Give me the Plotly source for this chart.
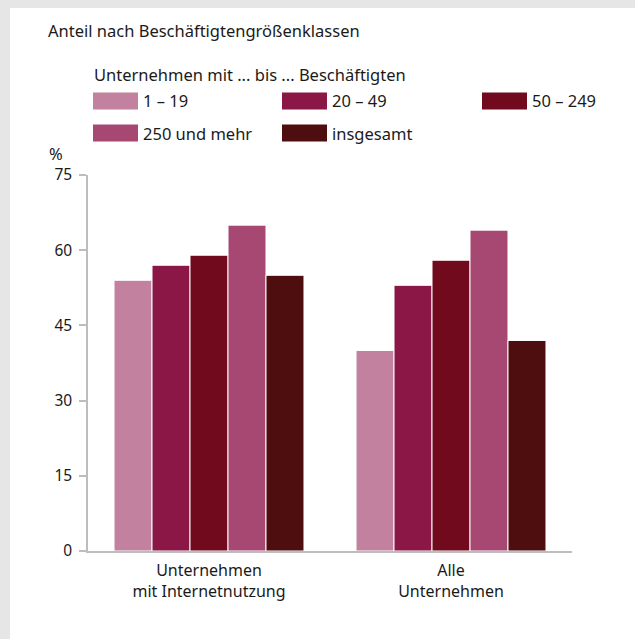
import plotly.graph_objects as go

# data
categories = ["Unternehmen<br>mit Internetnutzung", "Alle<br>Unternehmen"]
series_names = ["1 – 19", "20 – 49", "50 – 249", "250 und mehr", "insgesamt"]
values_1_19 = [54, 40]
values_20_49 = [57, 53]
values_50_249 = [59, 58]
values_250 = [65, 64]
values_total = [55, 42]
y_ticks = [0, 15, 30, 45, 60, 75]

colors = ["#C2819E", "#8A1746", "#710A1C", "#A64872", "#4E0D0F"]
series_values = [values_1_19, values_20_49, values_50_249, values_250, values_total]

W, H = 635, 639
L, R, T, B = 88, 63, 175, 88
FONT = "Noto Sans"


def px_x(x):
    return (x - L) / (W - L - R)


def px_y(y):
    return (H - B - y) / (H - T - B)


fig = go.Figure()
for name, vals, col in zip(series_names, series_values, colors):
    fig.add_trace(go.Bar(x=categories, y=vals, name=name, marker_color=col,
                         marker_line=dict(color="white", width=1),
                         showlegend=False, hoverinfo="y+name"))

shapes = []
# gray frame, white card
shapes.append(dict(type="rect", xref="paper", yref="paper", layer="below",
                   x0=px_x(10), x1=px_x(W + 5), y0=px_y(8), y1=px_y(H + 5),
                   fillcolor="white", line_width=0))

annotations = [
    dict(text="Anteil nach Beschäftigtengrößenklassen", x=px_x(46), y=px_y(31)),
    dict(text="Unternehmen mit ... bis ... Beschäftigten", x=px_x(92), y=px_y(74)),
    dict(text="%", x=px_x(47), y=px_y(154)),
]

# hand-made legend with wide swatches
leg_x = [93, 282, 482, 93, 282]
leg_y = [101, 101, 101, 133, 133]
for name, col, lx, ly in zip(series_names, colors, leg_x, leg_y):
    shapes.append(dict(type="rect", xref="paper", yref="paper",
                       x0=px_x(lx), x1=px_x(lx + 45), y0=px_y(ly + 8.5), y1=px_y(ly - 8.5),
                       fillcolor=col, line_width=0))
    annotations.append(dict(text=name, x=px_x(lx + 48), y=px_y(ly)))

for a in annotations:
    a.update(xref="paper", yref="paper", xanchor="left", yanchor="middle",
             showarrow=False, font=dict(size=16.5, color="#1a1a1a", family=FONT))

fig.update_layout(
    width=W, height=H,
    margin=dict(l=L, r=R, t=T, b=B),
    paper_bgcolor="#E6E6E6", plot_bgcolor="white",
    barmode="group", bargap=0.215, bargroupgap=0.0,
    font=dict(family=FONT, size=16, color="#1a1a1a"),
    shapes=shapes, annotations=annotations,
)
fig.update_xaxes(showline=True, linecolor="#BDBDBD", linewidth=2, ticks="",
                 showgrid=False, tickfont=dict(size=16), ticklabelstandoff=4)
fig.update_yaxes(range=[0, 75], tickvals=y_ticks, showgrid=False, zeroline=False,
                 showline=True, linecolor="#BDBDBD", linewidth=1.5,
                 ticks="outside", ticklen=7, tickcolor="#BDBDBD", tickwidth=1.5,
                 tickfont=dict(size=15.5), ticklabelstandoff=4)

fig.write_html("out.html", config={"displayModeBar": False},
               post_script="document.body.style.margin='0';document.body.style.overflow='hidden';")
